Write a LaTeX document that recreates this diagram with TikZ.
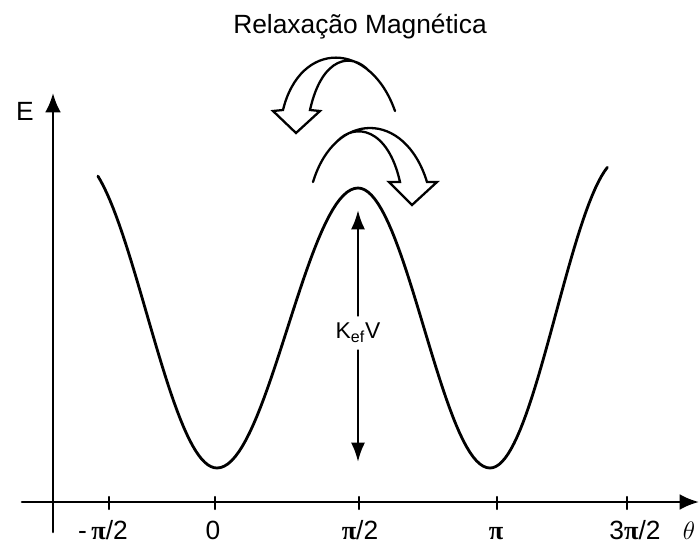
\documentclass[tikz,border=0pt]{standalone}
\usepackage{amsmath}
\usepackage{fontspec}
\setmainfont{Liberation Sans}
\newfontfamily\symbfont{Liberation Serif}
\newcommand{\pisym}{{\symbfont\bfseries π}}
\usetikzlibrary{arrows.meta}

\begin{document}
\begin{tikzpicture}[x=0.02cm,y=-0.02cm,line cap=round,line join=round,
    every node/.style={inner sep=1pt,font=\fontsize{15}{18}\selectfont},
    axis/.style={line width=1.5pt,-{Latex[length=11pt,width=9pt]}},
    curve/.style={line width=1.6pt},
    blockarrow/.style={line width=1.3pt,line join=miter},
    kvarrow/.style={line width=1.5pt,-{Latex[length=11pt,width=8pt]}}]
  \useasboundingbox (0,0) rectangle (699,547);
  % eixos
  \draw[axis] (22,502) -- (699,502);
  \draw[axis] (53,532) -- (53,93);
  \node (E) at (25,111) {E};
  \node[anchor=base] (theta) at (689,539) {$\theta$};
  \foreach \xt/\xl/\lab [count=\i] in {109/103/{-\,\pisym/2},215/213/0,359/360/{\pisym/2},497/496/{\pisym},627/635/{3\pisym/2}}{
    \draw[line width=1.3pt] (\xt,497) -- (\xt,509);
    \node[anchor=base] (t\i) at (\xl,539) {\lab};
  }
  % energia
  \draw[curve] plot[domain=-76:0,samples=40] ({217+\x*141/90},{468-310*sin(\x)*sin(\x)})
    -- plot[domain=0:90,samples=40] ({217+\x*141/90},{468-280*sin(\x)*sin(\x)})
    -- plot[domain=90:180,samples=40] ({358+(\x-90)*132/90},{468-280*sin(\x)*sin(\x)})
    -- plot[domain=180:260,samples=40] ({490+(\x-180)*132/90},{468-310*sin(\x)*sin(\x)});
  % barreira
  \coordinate (ktop) at (358,210);
  \coordinate (kbot) at (358,462);
  \node[fill=white,inner sep=4pt,font=\fontsize{13}{15}\selectfont] (kv) at (358,333) {K\textsubscript{ef}V};
  \draw[kvarrow] (kv) -- (ktop);
  \draw[kvarrow] (kv) -- (kbot);
  % setas curvas
  \draw[blockarrow] (395,111) .. controls (370,40) and (300,40) .. (283,110) -- (273,111)
    -- (296,133) -- (320,111) -- (310,110) .. controls (322,56) and (352,52) .. (369,71);
  \draw[blockarrow] (313,182) .. controls (335,110) and (405,110) .. (427,182) -- (437,182)
    -- (412,205) -- (389,182) -- (400,182) .. controls (388,128) and (355,122) .. (337,141.5);
  \node[anchor=base] (title) at (360,34) {Relaxação Magnética};
\end{tikzpicture}
\end{document}
